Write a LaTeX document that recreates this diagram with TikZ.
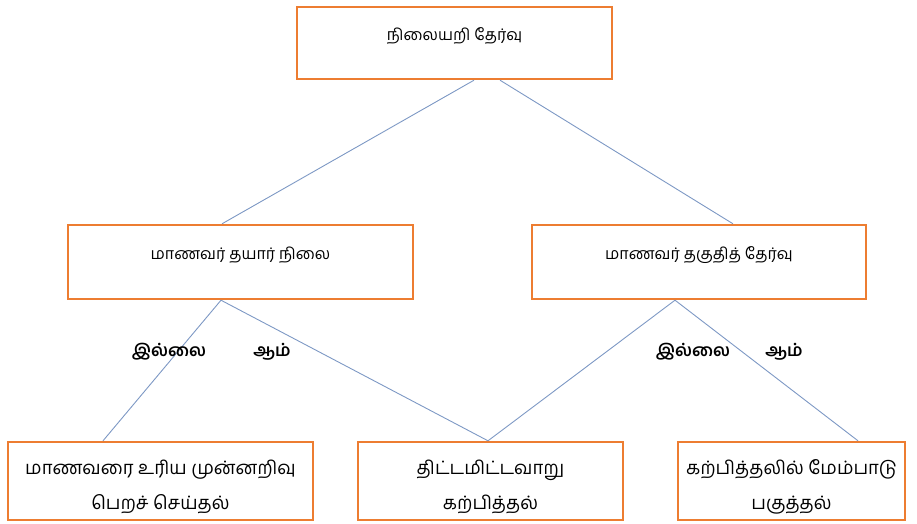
\documentclass[tikz,border=0pt]{standalone}
\usepackage{fontspec}
\newfontfamily\tamilfont[Script=Tamil]{Hind Madurai}
\usetikzlibrary{positioning}
\definecolor{boxorange}{RGB}{237,125,49}
\definecolor{linkblue}{RGB}{125,152,196}
\begin{document}
\begin{tikzpicture}[x=1pt,y=-1pt,
  box/.style={draw=boxorange,line width=2.4pt,fill=white,inner sep=0pt,
    font=\tamilfont\fontsize{16}{19}\selectfont},
  lowbox/.style={box,minimum height=78pt},
  lowtext/.style={align=center,inner sep=0pt,font=\tamilfont\fontsize{18.5}{35}\selectfont},
  link/.style={draw=linkblue,line width=0.9pt},
  answer/.style={font=\tamilfont\bfseries\fontsize{17}{20}\selectfont}]
\useasboundingbox (0,0) rectangle (917,524);
% upper boxes
\node[box,minimum width=315pt,minimum height=72pt,text depth=18pt] (test) at (454.5,43) {நிலையறி தேர்வு};
\node[box,minimum width=345pt,minimum height=74pt,text depth=18pt] (ready) at (240.5,262) {மாணவர் தயார் நிலை};
\node[box,minimum width=334pt,minimum height=74pt,text depth=18pt] (fit) at (699,262) {மாணவர் தகுதித் தேர்வு};
% lower boxes
\node[lowbox,minimum width=305pt] (prior) at (160.5,481) {};
\node[lowbox,minimum width=265pt] (plan) at (490.5,481) {};
\node[lowbox,minimum width=227pt] (improve) at (791.5,481) {};
\node[lowtext] (priortxt) at ([yshift=-6pt]prior.center) {மாணவரை உரிய முன்னறிவு\\பெறச் செய்தல்};
\node[lowtext] (plantxt) at ([yshift=-6pt]plan.center) {திட்டமிட்டவாறு\\கற்பித்தல்};
\node[lowtext] (improvetxt) at ([yshift=-6pt]improve.center) {கற்பித்தலில் மேம்பாடு\\பகுத்தல்};
% links
\draw[link] ([xshift=19.5pt]test.south) -- ([xshift=-18.5pt]ready.north);
\draw[link] ([xshift=45.5pt]test.south) -- ([xshift=34pt]fit.north);
\draw[link] ([xshift=-19.5pt]ready.south) -- ([xshift=-57.5pt]prior.north);
\draw[link] ([xshift=-19.5pt]ready.south) -- ([xshift=-2.5pt]plan.north);
\draw[link] ([xshift=-24pt]fit.south) -- ([xshift=-2.5pt]plan.north);
\draw[link] ([xshift=-24pt]fit.south) -- ([xshift=66.5pt]improve.north);
% answers
\node[answer] (no1) at (169,352) {இல்லை};
\node[answer] (yes1) at (272,352) {ஆம்};
\node[answer] (no2) at (693,352) {இல்லை};
\node[answer] (yes2) at (784,352) {ஆம்};
\end{tikzpicture}
\end{document}
